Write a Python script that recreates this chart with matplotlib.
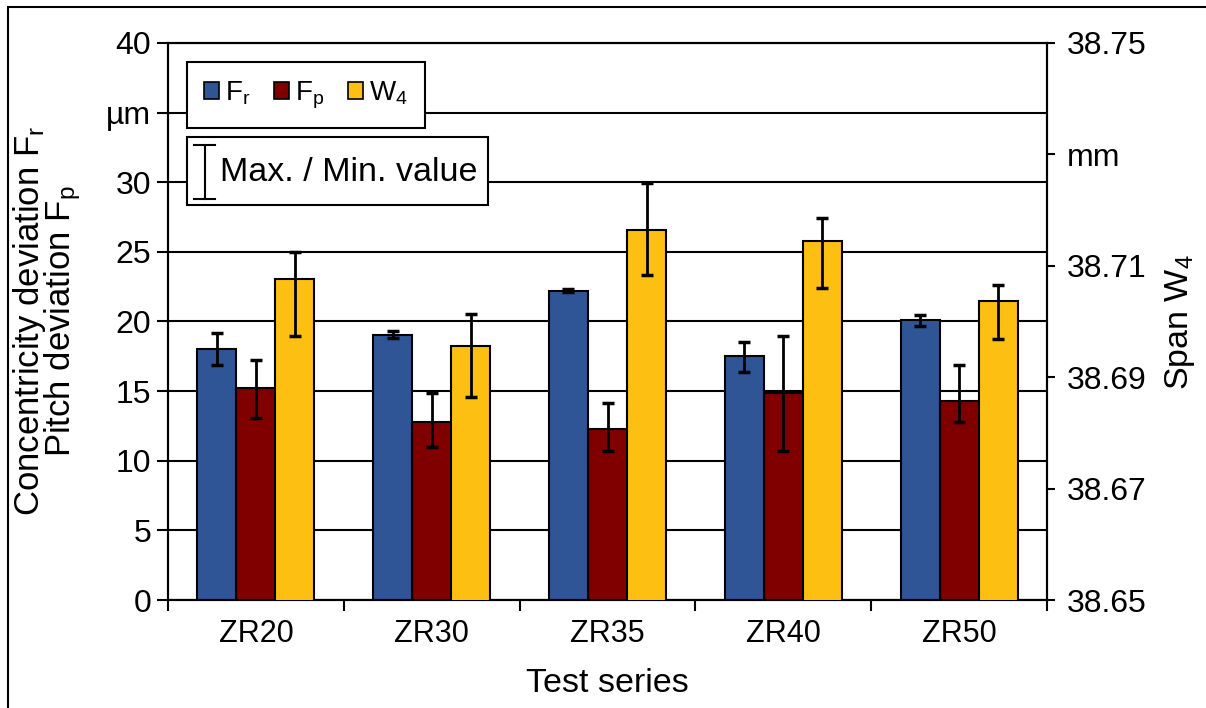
import numpy as np
import matplotlib
matplotlib.use("Agg")
from matplotlib import pyplot as plt
from matplotlib.patches import Rectangle, Patch

plt.rcParams['font.family'] = ['Liberation Sans', 'DejaVu Sans']
plt.rcParams['mathtext.fontset'] = 'custom'
plt.rcParams['mathtext.rm'] = 'Liberation Sans'

# Daten
series = ["ZR20", "ZR30", "ZR35", "ZR40", "ZR50"]

fr = np.array([18.0, 19.05, 22.2, 17.5, 20.1])
fr_max = np.array([19.2, 19.3, 22.35, 18.5, 20.5])
fr_min = np.array([16.9, 18.8, 22.1, 16.35, 19.7])

fp = np.array([15.2, 12.8, 12.3, 14.9, 14.3])
fp_max = np.array([17.2, 14.9, 14.15, 18.95, 16.85])
fp_min = np.array([13.1, 11.0, 10.7, 10.7, 12.8])

w4 = np.array([38.7076, 38.6956, 38.7164, 38.7144, 38.7036])
w4_max = np.array([38.7124, 38.7014, 38.7249, 38.7185, 38.7065])
w4_min = np.array([38.6974, 38.6864, 38.7084, 38.7060, 38.6968])

left_ticks = [0, 5, 10, 15, 20, 25, 30, 35, 40]
left_labels = ["0", "5", "10", "15", "20", "25", "30", "µm", "40"]
right_ticks = [38.65, 38.67, 38.69, 38.71, 38.73, 38.75]
right_labels = ["38.65", "38.67", "38.69", "38.71", "mm", "38.75"]

blue = "#2F5597"
red = "#800000"
yellow = "#FDC012"

fig = plt.figure(figsize=(12.06, 7.08), dpi=100)
ax = fig.add_axes([168 / 1206, 1 - 600 / 708, 879 / 1206, 557 / 708])
ax2 = ax.twinx()

x = np.arange(len(series))
w = 0.222
err_kw = dict(fmt='none', ecolor='black', elinewidth=2, capsize=4, capthick=2.5)

ax.bar(x - w, fr, w, color=blue, edgecolor='black', linewidth=1.5, zorder=3)
ax.errorbar(x - w, fr, yerr=[fr - fr_min, fr_max - fr], zorder=4, **err_kw)
ax.bar(x, fp, w, color=red, edgecolor='black', linewidth=1.5, zorder=3)
ax.errorbar(x, fp, yerr=[fp - fp_min, fp_max - fp], zorder=4, **err_kw)

ax2.bar(x + w, w4, w, bottom=0, color=yellow, edgecolor='black', linewidth=1.5, zorder=3)
ax2.errorbar(x + w, w4, yerr=[w4 - w4_min, w4_max - w4], zorder=4, **err_kw)

ax.set_xlim(-0.5, len(series) - 0.5)
ax.set_ylim(0, 40)
ax.set_yticks(left_ticks)
ax.set_yticklabels(left_labels, fontsize=23)
ax.yaxis.grid(True, color='black', linewidth=1.5)
ax.set_axisbelow(True)

ax2.set_ylim(38.65, 38.75)
ax2.set_yticks(right_ticks)
ax2.set_yticklabels(right_labels, fontsize=23)

ax.set_xticks(x)
ax.set_xticklabels(series, fontsize=22)
ax.set_xticks(np.arange(-0.5, len(series), 1), minor=True)
ax.tick_params(axis='x', which='major', length=0, pad=14)
ax.tick_params(axis='x', which='minor', length=8, width=1.5, direction='out')
ax.tick_params(axis='y', length=8, width=1.5, direction='out', pad=4)
ax2.tick_params(axis='y', length=6, width=1.5, direction='out', pad=8)

for a in (ax, ax2):
    for s in a.spines.values():
        s.set_linewidth(1.5)
        s.set_color('black')

# Legende
handles = [Patch(facecolor=blue, edgecolor='black', linewidth=1.2, label=r'$\mathregular{F_r}$'),
           Patch(facecolor=red, edgecolor='black', linewidth=1.2, label=r'$\mathregular{F_p}$'),
           Patch(facecolor=yellow, edgecolor='black', linewidth=1.2, label=r'$\mathregular{W_4}$')]
leg = ax2.legend(handles=handles, ncol=3, loc='upper left', bbox_to_anchor=(0.0216, 0.966),
                 fontsize=20, frameon=True, fancybox=False, edgecolor='black', framealpha=1,
                 handlelength=0.55, handleheight=0.55, handletextpad=0.2, columnspacing=0.85,
                 borderpad=0.62, borderaxespad=0)
leg.get_frame().set_linewidth(1.5)
leg.set_zorder(10)

box = Rectangle((0.0216, 0.709), 0.3424, 0.122, transform=ax2.transAxes,
                facecolor='white', edgecolor='black', linewidth=1.5, zorder=10)
ax2.add_patch(box)
ax2.plot([0.042, 0.042], [0.72, 0.817], transform=ax2.transAxes, color='black', lw=1.5, zorder=11)
ax2.plot([0.030, 0.054], [0.72, 0.72], transform=ax2.transAxes, color='black', lw=1.5, zorder=11)
ax2.plot([0.030, 0.054], [0.817, 0.817], transform=ax2.transAxes, color='black', lw=1.5, zorder=11)
ax2.text(0.059, 0.768, "Max. / Min. value", transform=ax2.transAxes, fontsize=24.5,
         va='center', ha='left', zorder=11)

# Achsentitel
fig.text(47 / 1206, 1 - 321 / 708,
         "Concentricity deviation $\\mathregular{F_r}$\nPitch deviation $\\mathregular{F_p}$",
         rotation=90, ha='center', va='center', multialignment='center', fontsize=25,
         linespacing=0.8)
fig.text(1180 / 1206, 1 - 322 / 708, "Span $\\mathregular{W_4}$", rotation=90,
         ha='center', va='center', fontsize=24.5)
fig.text(607 / 1206, 1 - 683 / 708, "Test series", ha='center', va='center', fontsize=24.5)

fig.patches.append(Rectangle((8 / 1206, -0.05), 1.2, 1 - 7 / 708 + 0.05, transform=fig.transFigure,
                             fill=False, edgecolor='black', linewidth=1.5))

plt.savefig("out.png", dpi=100)
